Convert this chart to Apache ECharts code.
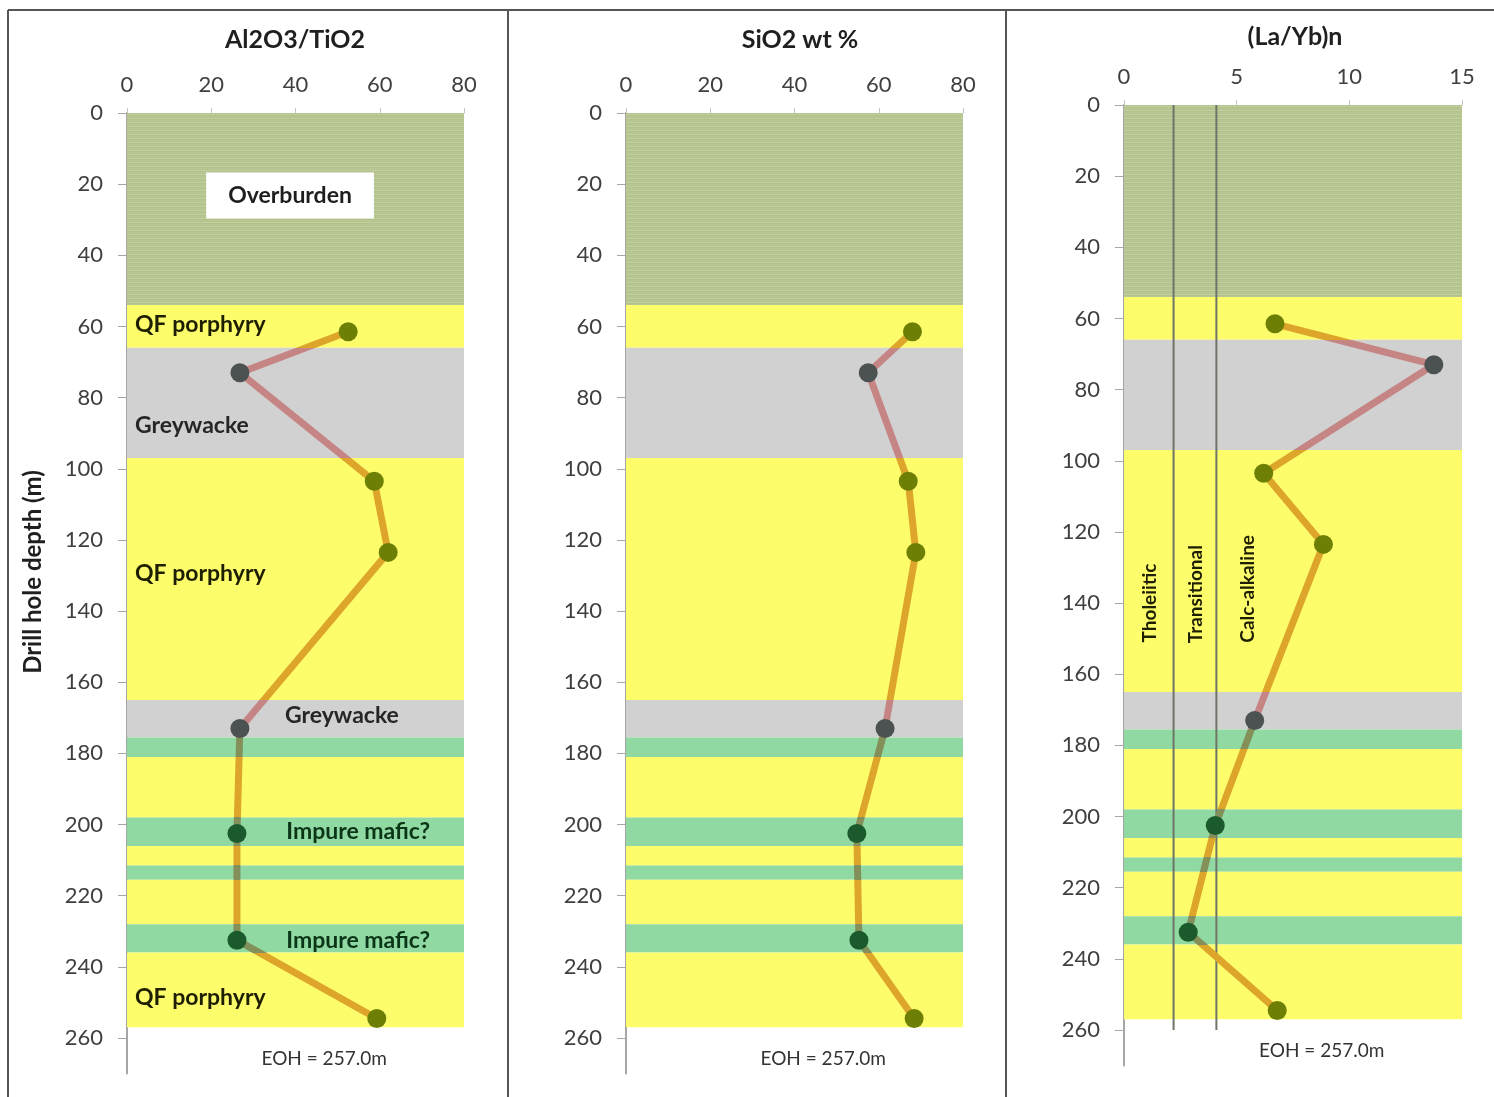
<!DOCTYPE html>
<html>
<head>
<meta charset="utf-8">
<title>Drill hole geochemistry logs</title>
<script src="https://cdn.jsdelivr.net/npm/echarts@6/dist/echarts.min.js"></script>
<style>
  html, body { margin: 0; padding: 0; background: #ffffff; }
  #chart { width: 1494px; height: 1097px; }
</style>
</head>
<body>
<div id="chart"></div>
<script>
// ---- Sample data (depth in metres down hole) ----
const sampleDepth = [61.5, 73, 103.5, 123.5, 173, 202.5, 232.5, 254.5];
const sampleLith  = ['QF', 'GW', 'QF', 'QF', 'GW', 'MAF', 'MAF', 'QF'];
const al2o3Tio2   = [52.5, 26.8, 58.7, 62.0, 26.8, 26.1, 26.1, 59.3];
const sio2Wt      = [68.0, 57.5, 67.0, 68.8, 61.5, 54.8, 55.3, 68.4];
const laYbN       = [6.7, 13.75, 6.2, 8.85, 5.8, 4.05, 2.85, 6.8];

// ---- Lithology intervals ----
const bandTop    = [0, 54, 66, 97, 165, 175.5, 181, 198, 206, 211.5, 215.5, 228, 236];
const bandBottom = [54, 66, 97, 165, 175.5, 181, 198, 206, 211.5, 215.5, 228, 236, 257];
const bandLith   = ['OB', 'QF', 'GW', 'QF', 'GW', 'MAF', 'QF', 'MAF', 'QF', 'MAF', 'QF', 'MAF', 'QF'];

// ---- Axis ticks ----
const depthTicks = [0, 20, 40, 60, 80, 100, 120, 140, 160, 180, 200, 220, 240, 260];
const depthAxisMax = 270;
const ratioTicks = [0, 20, 40, 60, 80];
const silicaTicks = [0, 20, 40, 60, 80];
const laYbTicks = [0, 5, 10, 15];

// (La/Yb)n affinity boundaries
const affinityBounds = [2.2, 4.1];
const affinityNames = ['Tholeiitic', 'Transitional', 'Calc-alkaline'];
const affinityLabelX = [1.15, 3.2, 5.5];
const affinityLabelDepth = [140, 137.5, 136];

const holeEnd = 'EOH = 257.0m';

// ---- Styling ----
const FONT = 'Lato, "Open Sans", sans-serif';
const bandFill = { QF: '#fdfd6c', GW: '#d1d1d1', MAF: '#91d9a2' };
const lineColor = { OB: '#dea52b', QF: '#dea52b', GW: '#c68585', MAF: '#83905a' };
const dotColor = { QF: '#6e7f05', GW: '#4c5252', MAF: '#1b5a2c' };
const labelColor = { QF: '#1e1e00', GW: '#262626', MAF: '#0b3517' };

// Striped fill for the overburden interval
function stripePattern() {
  const c = document.createElement('canvas');
  c.width = 8; c.height = 4;
  const g = c.getContext('2d');
  const rows = ['#b8c693', '#b6c490', '#c2ce9f', '#b3c18d'];
  rows.forEach((col, i) => { g.fillStyle = col; g.fillRect(0, i, 8, 1); });
  return c;
}
const obPattern = { image: stripePattern(), repeat: 'repeat' };

const panels = [
  { title: 'Al2O3/TiO2', values: al2o3Tio2, ticks: ratioTicks, left: 127, top: 113, width: 337, titleX: 295, titleY: 40 },
  { title: 'SiO2 wt %', values: sio2Wt, ticks: silicaTicks, left: 626, top: 113, width: 337, titleX: 800, titleY: 40 },
  { title: '(La/Yb)n', values: laYbN, ticks: laYbTicks, left: 1124, top: 105, width: 338, titleX: 1295, titleY: 37 }
];
const pxPerMetre = 925 / 260;

const grids = [], xAxes = [], yAxes = [], series = [], visualMaps = [];
const solid = { opacity: 1 };

panels.forEach((p, k) => {
  const xMin = p.ticks[0], xMax = p.ticks[p.ticks.length - 1];
  grids.push({ left: p.left, top: p.top, width: p.width, height: depthAxisMax * pxPerMetre });
  xAxes.push({
    gridIndex: k, type: 'value', position: 'top', min: xMin, max: xMax,
    interval: p.ticks[1] - p.ticks[0],
    axisLine: { show: true, lineStyle: { color: '#d4d4d4', width: 1 } },
    axisTick: { show: true, length: 5, lineStyle: { color: '#c4c4c4' } },
    axisLabel: { margin: 17, fontSize: 22, color: '#3f3f3f', fontFamily: FONT },
    splitLine: { show: false }
  });
  yAxes.push({
    gridIndex: k, type: 'value', inverse: true, min: 0, max: depthAxisMax,
    axisLine: { show: true, onZero: false, lineStyle: { color: '#a6a6a6', width: 2 } },
    axisTick: { show: true, length: 9, customValues: depthTicks, lineStyle: { color: '#a6a6a6' } },
    axisLabel: { margin: 24, fontSize: 22, color: '#3f3f3f', fontFamily: FONT, customValues: depthTicks },
    splitLine: { show: false }
  });

  // lithology intervals
  series.push({
    type: 'custom', xAxisIndex: k, yAxisIndex: k, silent: true, z: 1,
    data: bandTop.map((t, i) => [t, bandBottom[i], i]),
    renderItem: function (params, api) {
      const top = api.value(0), bottom = api.value(1), lith = bandLith[api.value(2)];
      const a = api.coord([xMin, top]);
      const b = api.coord([xMax, bottom]);
      return {
        type: 'rect',
        shape: { x: a[0], y: a[1], width: b[0] - a[0], height: b[1] - a[1] },
        style: { fill: lith === 'OB' ? obPattern : bandFill[lith] }
      };
    }
  });

  // profile line, coloured by the lithology it passes through
  const lineIdx = series.length;
  series.push({
    type: 'line', xAxisIndex: k, yAxisIndex: k, z: 4, showSymbol: false, silent: true,
    data: p.values.map((v, i) => [v, sampleDepth[i]]),
    lineStyle: { width: 7, cap: 'round', join: 'round' }
  });
  visualMaps.push({
    type: 'piecewise', show: false, dimension: 1, seriesIndex: lineIdx,
    pieces: bandTop.map((t, i) => ({ gte: t, lt: bandBottom[i], color: lineColor[bandLith[i]] }))
      .concat([{ gte: bandBottom[bandBottom.length - 1], lt: depthAxisMax, color: lineColor.QF }])
  });

  // sample points
  series.push({
    type: 'scatter', xAxisIndex: k, yAxisIndex: k, z: 5, symbolSize: 19, silent: true,
    itemStyle: solid,
    data: p.values.map((v, i) => ({ value: [v, sampleDepth[i]], itemStyle: { color: dotColor[sampleLith[i]], opacity: 1 } }))
  });

  // end-of-hole note
  series.push({
    type: 'scatter', xAxisIndex: k, yAxisIndex: k, z: 6, symbolSize: 0, silent: true,
    itemStyle: solid,
    data: [{ value: [(xMin + xMax) / 2 + (xMax - xMin) * 0.085, 265.8] }],
    label: { show: true, position: 'inside', formatter: holeEnd, fontSize: 19, color: '#333333', fontFamily: FONT }
  });
});

// Lithology annotations in the first log
const lithNotes = [
  { text: 'QF porphyry', lith: 'QF', x: 1.9, d: 59.6 },
  { text: 'Greywacke', lith: 'GW', x: 1.9, d: 88 },
  { text: 'QF porphyry', lith: 'QF', x: 1.9, d: 129.5 },
  { text: 'Greywacke', lith: 'GW', x: 37.5, d: 169.5 },
  { text: 'Impure mafic?', lith: 'MAF', x: 37.8, d: 202 },
  { text: 'Impure mafic?', lith: 'MAF', x: 37.8, d: 232.5 },
  { text: 'QF porphyry', lith: 'QF', x: 1.9, d: 248.5 }
];
series.push({
  type: 'scatter', xAxisIndex: 0, yAxisIndex: 0, z: 6, symbolSize: 0, silent: true,
  itemStyle: solid,
  data: lithNotes.map(n => ({
    value: [n.x, n.d],
    label: { show: true, position: 'inside', align: 'left', verticalAlign: 'middle', formatter: n.text,
      fontSize: 23, fontWeight: 'bold', color: labelColor[n.lith], fontFamily: FONT }
  }))
});
series.push({
  type: 'scatter', xAxisIndex: 0, yAxisIndex: 0, z: 6, symbolSize: 0, silent: true,
  itemStyle: solid,
  data: [{ value: [38.7, 23.2] }],
  label: { show: true, position: 'inside', formatter: 'Overburden', fontSize: 23, fontWeight: 'bold',
    color: '#1e1e1e', fontFamily: FONT, backgroundColor: '#ffffff', padding: [12, 22, 11, 22] }
});

// Affinity boundaries and labels in the (La/Yb)n log
affinityBounds.forEach(b => {
  series.push({
    type: 'line', xAxisIndex: 2, yAxisIndex: 2, z: 3, showSymbol: false, silent: true,
    data: [[b, 0], [b, 260]],
    lineStyle: { color: '#6f7468', width: 2 }
  });
});
series.push({
  type: 'scatter', xAxisIndex: 2, yAxisIndex: 2, z: 6, symbolSize: 0, silent: true,
  itemStyle: solid,
  data: affinityNames.map((t, i) => ({
    value: [affinityLabelX[i], affinityLabelDepth[i]],
    label: { show: true, position: 'inside', rotate: 90, align: 'center', verticalAlign: 'middle', formatter: t,
      fontSize: 19, fontWeight: 'bold', color: '#1e1e00', fontFamily: FONT }
  }))
});

// Panel frames, titles and the shared depth axis name
const frame = { stroke: '#555555', lineWidth: 2 };
const graphic = [
  { type: 'line', shape: { x1: 8, y1: 10, x2: 1494, y2: 10 }, style: frame },
  { type: 'line', shape: { x1: 8, y1: 10, x2: 8, y2: 1097 }, style: frame },
  { type: 'line', shape: { x1: 508, y1: 10, x2: 508, y2: 1097 }, style: frame },
  { type: 'line', shape: { x1: 1006, y1: 10, x2: 1006, y2: 1097 }, style: frame },
  { type: 'text', x: 33, y: 572, rotation: Math.PI / 2,
    style: { text: 'Drill hole depth (m)', font: 'bold 24px ' + FONT, fill: '#1f1f1f', align: 'center', verticalAlign: 'middle' } }
];
panels.forEach(p => {
  graphic.push({ type: 'text', x: p.titleX, y: p.titleY,
    style: { text: p.title, font: 'bold 25px ' + FONT, fill: '#1f1f1f', align: 'center', verticalAlign: 'middle' } });
});

const chart = echarts.init(document.getElementById('chart'), null, { renderer: 'canvas' });
chart.setOption({
  animation: false,
  backgroundColor: '#ffffff',
  textStyle: { fontFamily: FONT },
  grid: grids,
  xAxis: xAxes,
  yAxis: yAxes,
  visualMap: visualMaps,
  series: series,
  graphic: graphic
});
</script>
</body>
</html>
